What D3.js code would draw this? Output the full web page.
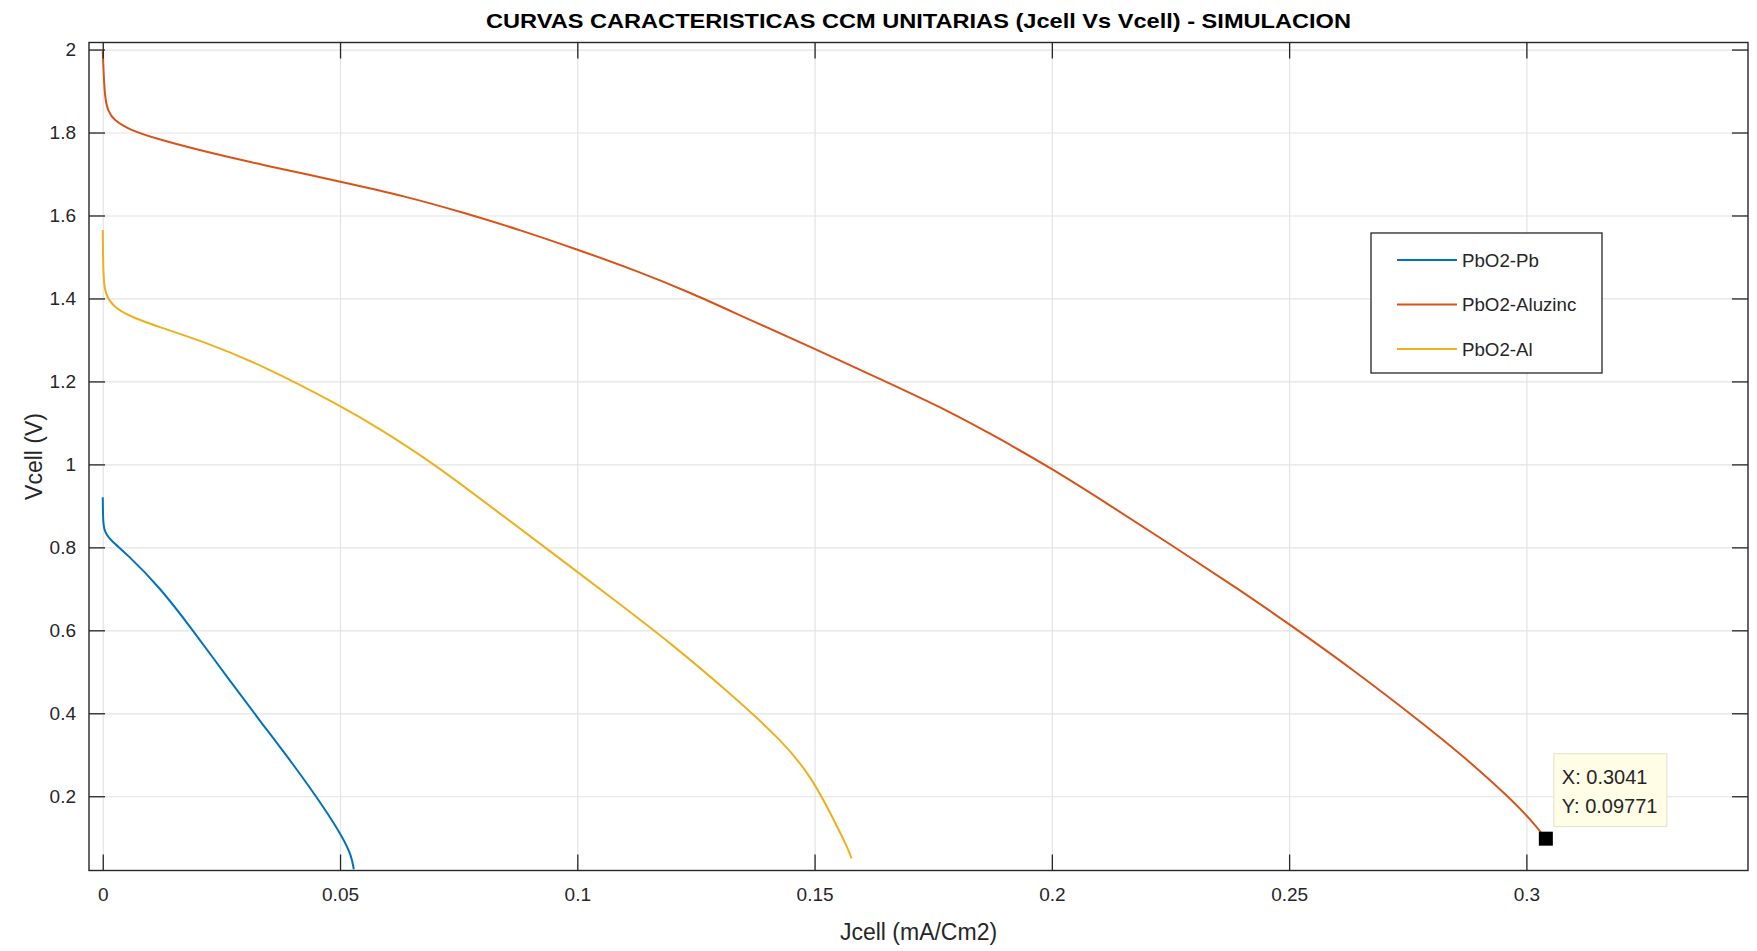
<!DOCTYPE html>
<html>
<head>
<meta charset="utf-8">
<script src="https://cdn.jsdelivr.net/npm/d3@7"></script>
<style>
  body { margin: 0; background: #fff; }
  svg { font-family: "Liberation Sans", Arial, sans-serif; }
</style>
</head>
<body>
<div id="chart"></div>
<script>
// values
var jPb = [0, 0, 0.00005, 0.0002, 0.0015, 0.005, 0.012, 0.019, 0.0261, 0.0331, 0.0401, 0.0471, 0.0506, 0.0524, 0.0529, 0.0529];
var vPb = [0.921, 0.921, 0.873, 0.841, 0.818, 0.785, 0.704, 0.600, 0.489, 0.382, 0.278, 0.165, 0.100, 0.057, 0.024, 0.024];

var jAz = [0, 0, 0.0004, 0.0012, 0.0022, 0.0058, 0.0119, 0.0215, 0.0336, 0.05, 0.0639, 0.076, 0.088, 0.1, 0.1122, 0.1243, 0.1364, 0.15, 0.1643, 0.1786, 0.188, 0.2, 0.2116, 0.2258, 0.2399, 0.25, 0.2635, 0.2776, 0.2871, 0.2965, 0.3012, 0.3041, 0.3041];
var vAz = [1.996, 1.996, 1.879, 1.851, 1.831, 1.805, 1.783, 1.754, 1.722, 1.682, 1.646, 1.607, 1.565, 1.518, 1.468, 1.412, 1.348, 1.279, 1.203, 1.127, 1.068, 0.99, 0.906, 0.801, 0.695, 0.615, 0.505, 0.381, 0.293, 0.196, 0.140, 0.0977, 0.0977];

var jAl = [0, 0, 0.0001, 0.0004, 0.0022, 0.0058, 0.0119, 0.0215, 0.0336, 0.05, 0.0578, 0.0699, 0.082, 0.0941, 0.1082, 0.12, 0.1318, 0.1436, 0.1497, 0.1542, 0.157, 0.1578, 0.1578];
var vAl = [1.565, 1.565, 1.46, 1.412, 1.38, 1.356, 1.331, 1.295, 1.239, 1.142, 1.09, 1.001, 0.896, 0.792, 0.67, 0.566, 0.452, 0.33, 0.24, 0.14, 0.075, 0.05, 0.05];

var seriesNames = ["PbO2-Pb", "PbO2-Aluzinc", "PbO2-Al"];
var seriesColors = ["#0072BD", "#D95319", "#EDB120"];

var xTicks = [0, 0.05, 0.1, 0.15, 0.2, 0.25, 0.3];
var yTicks = [0.2, 0.4, 0.6, 0.8, 1, 1.2, 1.4, 1.6, 1.8, 2];

var tipPoint = [0.3041, 0.09771];

function init() {

  var width = 1757;
  var height = 951;
  var margin = {top: 42.5, right: 9, bottom: 80.5, left: 89};
  var w = width - margin.left - margin.right;
  var h = height - margin.top - margin.bottom;
  var axisColor = "#262626";

  var svg = d3.select("#chart")
      .append("svg")
      .attr("width", width)
      .attr("height", height);

  var g = svg.append("g")
      .attr("transform", "translate(" + margin.left + "," + margin.top + ")");

  var xScale = d3.scaleLinear()
      .domain([-0.0029, 0.3467])
      .range([0, w]);

  var yScale = d3.scaleLinear()
      .domain([0.021, 2.017])
      .range([h, 0]);

  // grid
  g.append("g")
      .attr("class", "grid")
      .attr("transform", "translate(0," + h + ")")
      .call(d3.axisBottom(xScale).tickValues(xTicks).tickSize(-h).tickFormat(""));
  g.append("g")
      .attr("class", "grid")
      .call(d3.axisLeft(yScale).tickValues(yTicks).tickSize(-w).tickFormat(""));
  g.selectAll(".grid .domain").remove();
  g.selectAll(".grid line")
      .attr("stroke", "#e3e3e3")
      .attr("stroke-width", 1.2);

  // curves
  var series = [
    {name: seriesNames[0], color: seriesColors[0], j: jPb, v: vPb},
    {name: seriesNames[1], color: seriesColors[1], j: jAz, v: vAz},
    {name: seriesNames[2], color: seriesColors[2], j: jAl, v: vAl}
  ];

  var line = d3.line()
      .x(function(d) { return xScale(d[0]); })
      .y(function(d) { return yScale(d[1]); })
      .curve(d3.curveBasis);

  g.selectAll(".curve")
      .data(series)
      .enter()
      .append("path")
      .attr("class", "curve")
      .attr("fill", "none")
      .attr("stroke", function(d) { return d.color; })
      .attr("stroke-width", 2)
      .attr("d", function(d) {
        return line(d.j.map(function(x, i) { return [x, d.v[i]]; }));
      });

  // axes with inward ticks
  var tick = 16;
  var xAxis = g.append("g")
      .attr("transform", "translate(0," + h + ")")
      .call(d3.axisBottom(xScale).tickValues(xTicks).tickSize(-tick).tickPadding(17)
        .tickFormat(d3.format("~g")));
  var yAxis = g.append("g")
      .call(d3.axisLeft(yScale).tickValues(yTicks).tickSize(-tick).tickPadding(13)
        .tickFormat(d3.format("~g")));
  var xTop = g.append("g")
      .call(d3.axisTop(xScale).tickValues(xTicks).tickSize(-tick).tickFormat(""));
  var yRight = g.append("g")
      .attr("transform", "translate(" + w + ",0)")
      .call(d3.axisRight(yScale).tickValues(yTicks).tickSize(-tick).tickFormat(""));

  [xAxis, yAxis, xTop, yRight].forEach(function(a) {
    a.select(".domain").remove();
    a.selectAll("line").attr("stroke", axisColor).attr("stroke-width", 1.3);
    a.selectAll("text")
        .attr("fill", axisColor)
        .attr("font-size", "19px")
        .attr("font-family", "Liberation Sans, Arial, sans-serif");
  });

  g.append("rect")
      .attr("width", w)
      .attr("height", h)
      .attr("fill", "none")
      .attr("stroke", axisColor)
      .attr("stroke-width", 1.4);

  // titles
  svg.append("text")
      .attr("x", margin.left + w / 2)
      .attr("y", 28)
      .attr("text-anchor", "middle")
      .attr("font-size", "21px")
      .attr("font-weight", "bold")
      .attr("fill", "#000")
      .attr("textLength", 865)
      .attr("lengthAdjust", "spacingAndGlyphs")
      .text("CURVAS CARACTERISTICAS CCM UNITARIAS (Jcell Vs Vcell) - SIMULACION");

  svg.append("text")
      .attr("x", margin.left + w / 2)
      .attr("y", 940)
      .attr("text-anchor", "middle")
      .attr("font-size", "23px")
      .attr("fill", axisColor)
      .text("Jcell (mA/Cm2)");

  svg.append("text")
      .attr("transform", "translate(42," + (margin.top + h / 2) + ") rotate(-90)")
      .attr("text-anchor", "middle")
      .attr("font-size", "23px")
      .attr("fill", axisColor)
      .text("Vcell (V)");

  // legend
  var legend = svg.append("g")
      .attr("transform", "translate(1371,233)");
  legend.append("rect")
      .attr("width", 231)
      .attr("height", 140)
      .attr("fill", "#fff")
      .attr("stroke", "#262626")
      .attr("stroke-width", 1.3);
  var items = legend.selectAll(".item")
      .data(series)
      .enter()
      .append("g")
      .attr("class", "item")
      .attr("transform", function(d, i) { return "translate(0," + (27 + i * 44.5) + ")"; });
  items.append("line")
      .attr("x1", 26)
      .attr("x2", 86)
      .attr("stroke", function(d) { return d.color; })
      .attr("stroke-width", 2);
  items.append("text")
      .attr("x", 91)
      .attr("dy", "0.35em")
      .attr("font-size", "18.7px")
      .attr("fill", "#262626")
      .text(function(d) { return d.name; });

  // data tip
  var px = margin.left + xScale(tipPoint[0]);
  var py = margin.top + yScale(tipPoint[1]);
  var tip = svg.append("g")
      .attr("transform", "translate(" + (px + 8) + "," + (py - 85) + ")");
  tip.append("rect")
      .attr("width", 113)
      .attr("height", 73)
      .attr("fill", "#fffde6")
      .attr("stroke", "#e2e0cc")
      .attr("stroke-width", 1);
  tip.selectAll("text")
      .data(["X: " + tipPoint[0], "Y: " + tipPoint[1]])
      .enter()
      .append("text")
      .attr("x", 8)
      .attr("y", function(d, i) { return 30 + i * 29; })
      .attr("font-size", "20px")
      .attr("fill", "#262626")
      .text(function(d) { return d; });

  svg.append("rect")
      .attr("x", px - 7)
      .attr("y", py - 7)
      .attr("width", 14)
      .attr("height", 14)
      .attr("fill", "#000");
}
window.onload = init;
</script>
</body>
</html>
